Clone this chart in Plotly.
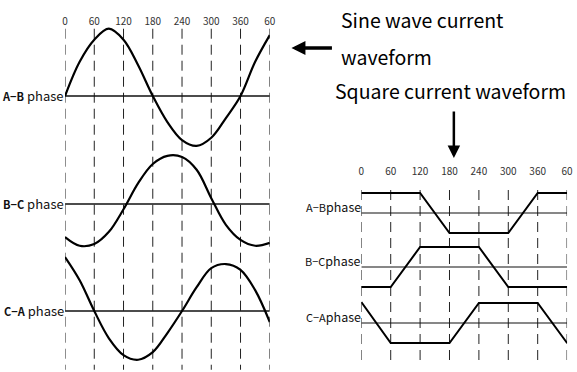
import plotly.graph_objects as go

# ---------------- data ----------------
degrees = [0, 30, 60, 90, 120, 150, 180, 210, 240, 270, 300, 330, 360, 390, 420]
tick_vals = [0, 60, 120, 180, 240, 300, 360, 420]
tick_text = ["0", "60", "120", "180", "240", "300", "360", "60"]

# sine-wave currents (amplitude units)
sine_ab = [0.0, 0.59, 0.97, 1.16, 0.97, 0.53, 0.0, -0.45, -0.76, -0.86, -0.72, -0.38, 0.0, 0.59, 1.05]
sine_bc = [-0.57, -0.72, -0.69, -0.48, -0.09, 0.36, 0.69, 0.83, 0.81, 0.59, 0.10, -0.36, -0.62, -0.72, -0.67]
sine_ca = [0.93, 0.53, 0.0, -0.47, -0.76, -0.84, -0.71, -0.38, 0.0, 0.41, 0.74, 0.81, 0.71, 0.36, -0.19]

# square (trapezoidal) currents
sq_ab_deg = [0, 120, 180, 300, 360, 420]
sq_ab = [1, 1, -1, -1, 1, 1]
sq_bc_deg = [0, 60, 120, 240, 300, 420]
sq_bc = [-1, -1, 1, 1, -1, -1]
sq_ca_deg = [0, 60, 180, 240, 360, 420]
sq_ca = [1.05, -1, -1, 1, 1, -1]

phase_labels = ["A\u2212B", "B\u2212C", "C\u2212A"]

# ---------------- layout constants ----------------
W, H = 577, 372
FONT = "Noto Sans CJK SC, sans-serif"
left_offsets = [0.0, -1.862, -3.707]
right_offsets = [0.0, -2.7, -5.5]
DASH = "10px,6px"

fig = go.Figure()

# dashed guide lines
for v in tick_vals:
    fig.add_trace(go.Scatter(x=[v, v], y=[1.16, -4.72], mode="lines",
                             line=dict(color="#222", width=1, dash=DASH),
                             xaxis="x", yaxis="y", hoverinfo="skip", showlegend=False))
    fig.add_trace(go.Scatter(x=[v, v], y=[1.15, -7.45], mode="lines",
                             line=dict(color="#222", width=1, dash=DASH),
                             xaxis="x2", yaxis="y2", hoverinfo="skip", showlegend=False))

# baselines
for off in left_offsets:
    fig.add_trace(go.Scatter(x=[0, 420], y=[off, off], mode="lines",
                             line=dict(color="#111", width=1.3),
                             xaxis="x", yaxis="y", hoverinfo="skip", showlegend=False))
for off in right_offsets:
    fig.add_trace(go.Scatter(x=[0, 420], y=[off, off], mode="lines",
                             line=dict(color="#111", width=1.1),
                             xaxis="x2", yaxis="y2", hoverinfo="skip", showlegend=False))

# sine curves
for vals, off in zip([sine_ab, sine_bc, sine_ca], left_offsets):
    fig.add_trace(go.Scatter(x=degrees, y=[v + off for v in vals], mode="lines",
                             line=dict(color="#000", width=2.2, shape="spline", smoothing=1.0),
                             xaxis="x", yaxis="y", hoverinfo="skip", showlegend=False))

# square curves
for xd, vals, off in zip([sq_ab_deg, sq_bc_deg, sq_ca_deg], [sq_ab, sq_bc, sq_ca], right_offsets):
    fig.add_trace(go.Scatter(x=xd, y=[v + off for v in vals], mode="lines",
                             line=dict(color="#000", width=2),
                             xaxis="x2", yaxis="y2", hoverinfo="skip", showlegend=False))

annotations = []
# phase labels
for lab, off in zip(phase_labels, left_offsets):
    annotations.append(dict(x=0, y=off, xref="x", yref="y", xanchor="right", yanchor="middle",
                            xshift=1, yshift=1,
                            text=f"<b><span style='font-size:11px'>{lab}</span></b> phase",
                            showarrow=False, font=dict(family=FONT, size=13, color="#111")))
for lab, off in zip(phase_labels, right_offsets):
    annotations.append(dict(x=0, y=off, xref="x2", yref="y2", xanchor="right", yanchor="bottom",
                            xshift=2, yshift=-5,
                            text=f"<span style='font-size:11px'>{lab}</span>phase",
                            showarrow=False, font=dict(family=FONT, size=12.5, color="#111")))

# titles
annotations += [
    dict(x=341 / W, y=1 - 20 / H, xref="paper", yref="paper", xanchor="left", yanchor="middle",
         text="Sine wave current", showarrow=False, font=dict(family=FONT, size=19.5, color="#000")),
    dict(x=341 / W, y=1 - 57 / H, xref="paper", yref="paper", xanchor="left", yanchor="middle",
         text="waveform", showarrow=False, font=dict(family=FONT, size=19.5, color="#000")),
    dict(x=335 / W, y=1 - 90 / H, xref="paper", yref="paper", xanchor="left", yanchor="middle",
         text="Square current waveform", showarrow=False, font=dict(family=FONT, size=19.5, color="#000")),
    # arrows
    dict(x=293 / W, y=1 - 48 / H, xref="paper", yref="paper", ax=42, ay=0, text="",
         showarrow=True, arrowhead=2, arrowsize=0.8, arrowwidth=3.5, arrowcolor="#000"),
    dict(x=458 / W, y=1 - 158 / H, xref="paper", yref="paper", ax=0, ay=-48, text="",
         showarrow=True, arrowhead=2, arrowsize=1, arrowwidth=2.5, arrowcolor="#000"),
]

axis_common = dict(range=[0, 420], tickmode="array", tickvals=tick_vals, ticktext=tick_text,
                   side="top", showgrid=False, zeroline=False, showline=False, ticks="",
                   tickfont=dict(family=FONT, size=10, color="#333"), fixedrange=True)

fig.update_layout(
    width=W, height=H, autosize=False,
    margin=dict(l=0, r=0, t=0, b=0),
    paper_bgcolor="white", plot_bgcolor="white",
    showlegend=False,
    xaxis=dict(domain=[63 / W, 271 / W], anchor="free", position=1 - 27 / H, **axis_common),
    xaxis2=dict(domain=[364 / W, 573 / W], anchor="free", position=1 - 177 / H, **axis_common),
    yaxis=dict(domain=[0, 1], range=[(96 - H) / 58, 96 / 58], visible=False, fixedrange=True),
    yaxis2=dict(domain=[0, 1], range=[(213 - H) / 20, 213 / 20], visible=False, fixedrange=True,
                anchor="x2"),
    annotations=annotations,
)

fig.write_html("out.html", config={"responsive": False, "displayModeBar": False},
               post_script="document.body.style.margin='0';document.body.style.overflow='hidden';")
